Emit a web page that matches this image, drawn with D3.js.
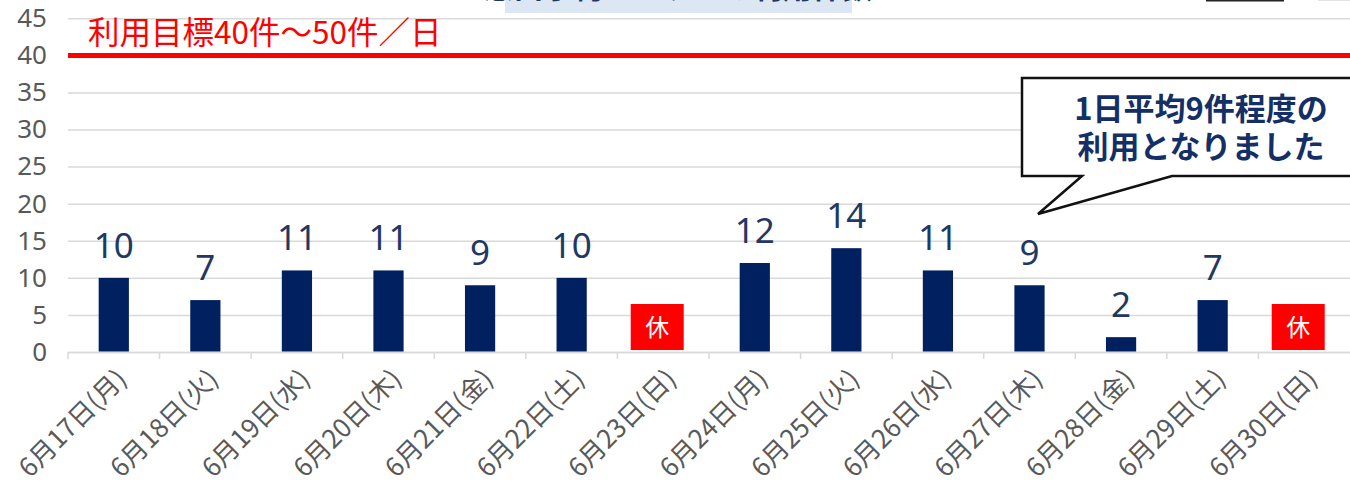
<!DOCTYPE html>
<html>
<head>
<meta charset="utf-8">
<script src="https://cdn.jsdelivr.net/npm/d3@7.9.0/dist/d3.min.js"></script>
<style>
  body { margin: 0; background: #fff; }
  text { font-family: "Noto Sans", "Noto Sans CJK JP", sans-serif; }
  .cjk { font-family: "Noto Sans CJK JP", "Noto Sans", sans-serif; }
</style>
</head>
<body>
<svg id="chart" width="1350" height="488"></svg>
<script>
// data
const categories = ['6月17日(月)', '6月18日(火)', '6月19日(水)', '6月20日(木)', '6月21日(金)',
  '6月22日(土)', '6月23日(日)', '6月24日(月)', '6月25日(火)', '6月26日(水)',
  '6月27日(木)', '6月28日(金)', '6月29日(土)', '6月30日(日)'];
const counts = [10, 7, 11, 11, 9, 10, null, 12, 14, 11, 9, 2, 7, null];
const holidays = ['6月23日(日)', '6月30日(日)'];
const yTicks = [0, 5, 10, 15, 20, 25, 30, 35, 40, 45];
const targetValue = 40;
const targetLabel = '利用目標40件～50件／日';
const calloutLines = ['1日平均9件程度の', '利用となりました'];
const titleText = '窓口予約システムの利用件数';

const svg = d3.select('#chart');
const W = 1350;
const plotLeft = 68, plotBottom = 352, plotTop = 18.3;

const x = d3.scaleBand().domain(categories).range([plotLeft, W]);
const y = d3.scaleLinear().domain([0, 45]).range([plotBottom, plotTop]);

// title box (cut off at top)
svg.append('rect')
  .attr('x', 505).attr('y', -30).attr('width', 347).attr('height', 43)
  .attr('fill', '#dde7f4');
svg.append('text')
  .attr('class', 'cjk')
  .attr('x', 678).attr('y', -2.5)
  .attr('text-anchor', 'middle')
  .attr('font-size', 30).attr('font-weight', 700)
  .attr('fill', '#1f3864')
  .text(titleText);

// cut-off legend pieces top right
svg.append('rect').attr('x', 1206).attr('y', -10).attr('width', 78).attr('height', 11.5).attr('fill', '#222');
svg.append('rect').attr('x', 1318).attr('y', -10).attr('width', 40).attr('height', 11).attr('fill', '#e4e4e4');

// gridlines + y labels
const yAxis = svg.append('g')
  .attr('transform', `translate(${plotLeft},0)`)
  .call(d3.axisLeft(y).tickValues(yTicks).tickSize(-(W - plotLeft)).tickPadding(21));
yAxis.select('.domain').remove();
yAxis.selectAll('.tick line').attr('stroke', '#d9d9d9').attr('stroke-width', 1.5);
yAxis.selectAll('.tick text')
  .attr('fill', '#595959').attr('font-size', 26)
  .attr('font-family', '"Noto Sans", sans-serif');

// x axis
const xAxis = svg.append('g')
  .attr('transform', `translate(0,${plotBottom})`)
  .call(d3.axisBottom(x).tickSize(0).tickPadding(0));
xAxis.select('.domain').attr('stroke', '#d9d9d9').attr('stroke-width', 1.5);
xAxis.selectAll('.tick text')
  .attr('class', 'cjk')
  .attr('fill', '#595959').attr('font-size', 26)
  .attr('text-anchor', 'end')
  .attr('dy', '0.35em')
  .attr('transform', 'translate(8,22) rotate(-45)');
xAxis.selectAll('.boundary')
  .data(categories)
  .join('line')
  .attr('class', 'boundary')
  .attr('x1', d => x(d)).attr('x2', d => x(d))
  .attr('y1', 0).attr('y2', 7)
  .attr('stroke', '#d9d9d9').attr('stroke-width', 1.5);

// bars
const barW = x.bandwidth() * 0.33;
const rows = categories.map((c, i) => ({ cat: c, value: counts[i] }))
  .filter(d => d.value !== null);

svg.append('g').selectAll('rect')
  .data(rows)
  .join('rect')
  .attr('x', d => x(d.cat) + x.bandwidth() / 2 - barW / 2)
  .attr('y', d => y(d.value))
  .attr('width', barW)
  .attr('height', d => y(0) - y(d.value) - 0.5)
  .attr('fill', '#00205f');

svg.append('g').selectAll('text')
  .data(rows)
  .join('text')
  .attr('x', d => x(d.cat) + x.bandwidth() / 2)
  .attr('y', d => y(d.value) - 20)
  .attr('text-anchor', 'middle')
  .attr('font-size', 35)
  .attr('fill', '#1f3864')
  .text(d => d.value);

// holiday markers
const hol = svg.append('g').selectAll('g')
  .data(holidays)
  .join('g')
  .attr('transform', d => `translate(${x(d) + x.bandwidth() / 2 - 6},${plotBottom - 2})`);
hol.append('rect')
  .attr('x', -26.5).attr('y', -46)
  .attr('width', 53).attr('height', 46)
  .attr('fill', '#ff0000');
hol.append('text')
  .attr('class', 'cjk')
  .attr('y', -14)
  .attr('text-anchor', 'middle')
  .attr('font-size', 24)
  .attr('fill', '#fff')
  .text('休');

// target line
svg.append('line')
  .attr('x1', plotLeft).attr('x2', W)
  .attr('y1', y(targetValue)).attr('y2', y(targetValue))
  .attr('stroke', '#ff0000').attr('stroke-width', 5);
svg.append('text')
  .attr('class', 'cjk')
  .attr('x', 88).attr('y', 44)
  .attr('font-size', 31.5)
  .attr('fill', '#ff0000')
  .text(targetLabel);

// callout
svg.append('path')
  .attr('d', 'M1022,78 H1362 V176 H1172 L1038,214 L1082,176 H1022 Z')
  .attr('fill', '#fff')
  .attr('stroke', '#111')
  .attr('stroke-width', 2.5);
svg.append('g').selectAll('text')
  .data(calloutLines)
  .join('text')
  .attr('class', 'cjk')
  .attr('x', 1201)
  .attr('y', (d, i) => 120 + i * 38)
  .attr('text-anchor', 'middle')
  .attr('font-size', 31)
  .attr('font-weight', 700)
  .attr('fill', '#132f66')
  .text(d => d);
</script>
</body>
</html>
